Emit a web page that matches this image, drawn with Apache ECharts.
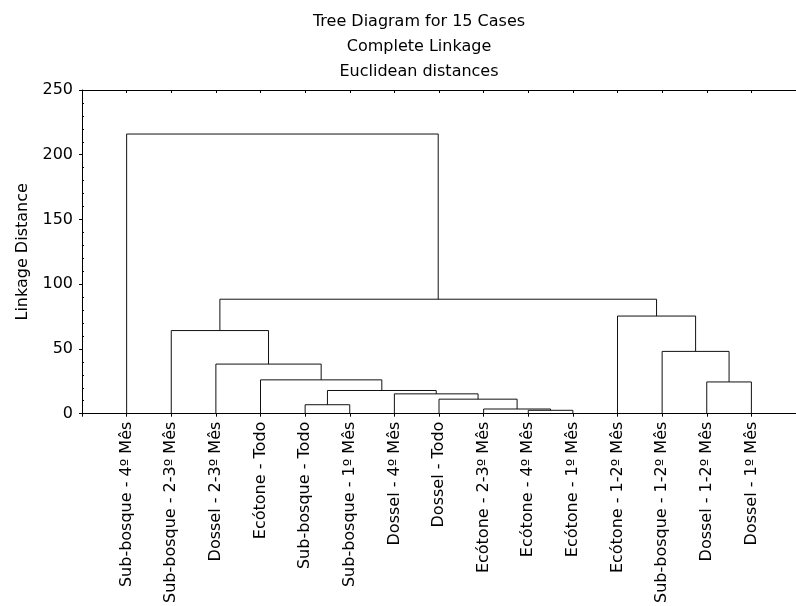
<!DOCTYPE html>
<html>
<head>
<meta charset="utf-8">
<script src="https://cdn.jsdelivr.net/npm/echarts@6/dist/echarts.min.js"></script>
<style>
  html, body { margin: 0; padding: 0; background: #fff; }
  #chart { width: 796px; height: 606px; }
</style>
</head>
<body>
<div id="chart"></div>
<script>
// leaf order along the x axis
const leaves = [
  'Sub-bosque - 4º Mês', 'Sub-bosque - 2-3º Mês', 'Dossel - 2-3º Mês', 'Ecótone - Todo',
  'Sub-bosque - Todo', 'Sub-bosque - 1º Mês', 'Dossel - 4º Mês', 'Dossel - Todo',
  'Ecótone - 2-3º Mês', 'Ecótone - 4º Mês', 'Ecótone - 1º Mês', 'Ecótone - 1-2º Mês',
  'Sub-bosque - 1-2º Mês', 'Dossel - 1-2º Mês', 'Dossel - 1º Mês'
];
// merges: children are leaf index (0-14) or node index (15 + step)
const mergeLeft = [9, 8, 4, 7, 6, 17, 13, 3, 2, 12, 1, 11, 25, 0];
const mergeRight = [10, 15, 5, 16, 18, 19, 14, 20, 22, 21, 23, 24, 26, 27];
const mergeHeight = [2.6, 3.6, 6.9, 11.2, 15.3, 17.9, 24.5, 26.1, 38.3, 48.1, 64.2, 75.4, 88.4, 216];
const titleLines = ['Tree Diagram for 15 Cases', 'Complete Linkage', 'Euclidean distances'];

const FONT = 'DejaVu Sans';

// build the dendrogram links
const nodeX = leaves.map((_, i) => i + 1);
const nodeY = leaves.map(() => 0);
const links = [];
mergeHeight.forEach((h, k) => {
  const l = mergeLeft[k], r = mergeRight[k];
  links.push({
    coords: [[nodeX[l], nodeY[l]], [nodeX[l], h], [nodeX[r], h], [nodeX[r], nodeY[r]]]
  });
  nodeX.push((nodeX[l] + nodeX[r]) / 2);
  nodeY.push(h);
});

const chart = echarts.init(document.getElementById('chart'));
const option = {
  animation: false,
  backgroundColor: '#fff',
  graphic: [{
    type: 'text',
    x: 419,
    y: 9,
    style: {
      text: titleLines.join('\n'),
      font: '16px "' + FONT + '"',
      fill: '#000',
      textAlign: 'center',
      lineHeight: 25
    }
  }],
  grid: { left: 82, right: -12, top: 90, bottom: 190 },
  xAxis: [
    {
      type: 'value',
      position: 'bottom',
      min: 0,
      max: 16,
      interval: 1,
      splitLine: { show: false },
      axisLine: { onZero: false, lineStyle: { color: '#000', width: 1 } },
      axisTick: { length: 3, lineStyle: { color: '#000' } },
      axisLabel: {
        rotate: 90,
        margin: 8,
        color: '#000',
        fontFamily: FONT,
        fontSize: 16,
        formatter: (v) => leaves[v - 1] || ''
      }
    },
    {
      type: 'value',
      position: 'top',
      min: 0,
      max: 16,
      interval: 1,
      splitLine: { show: false },
      axisLine: { show: true, onZero: false, lineStyle: { color: '#000', width: 1 } },
      axisTick: { show: true, inside: true, length: 3, lineStyle: { color: '#000' } },
      axisLabel: { show: false }
    }
  ],
  yAxis: [
    {
      type: 'value',
      position: 'left',
      min: 0,
      max: 250,
      interval: 50,
      name: 'Linkage Distance',
      nameLocation: 'middle',
      nameGap: 51,
      nameTextStyle: { color: '#000', fontFamily: FONT, fontSize: 16 },
      splitLine: { show: false },
      axisLine: { show: true, onZero: false, lineStyle: { color: '#000', width: 1 } },
      axisTick: { show: true, length: 3, lineStyle: { color: '#000' } },
      axisLabel: { margin: 9, color: '#000', fontFamily: FONT, fontSize: 16 }
    },
    {
      // minor ticks sit inside the frame
      type: 'value',
      position: 'left',
      min: 0,
      max: 250,
      interval: 50,
      splitLine: { show: false },
      axisLine: { show: false, onZero: false },
      axisTick: { show: false, inside: true },
      minorTick: { show: true, splitNumber: 5, length: 2, lineStyle: { color: '#000' } },
      axisLabel: { show: false }
    }
  ],
  series: [{
    type: 'lines',
    coordinateSystem: 'cartesian2d',
    polyline: true,
    silent: true,
    lineStyle: { color: '#111', width: 1, opacity: 1 },
    data: links
  }]
};
chart.setOption(option);
</script>
</body>
</html>
